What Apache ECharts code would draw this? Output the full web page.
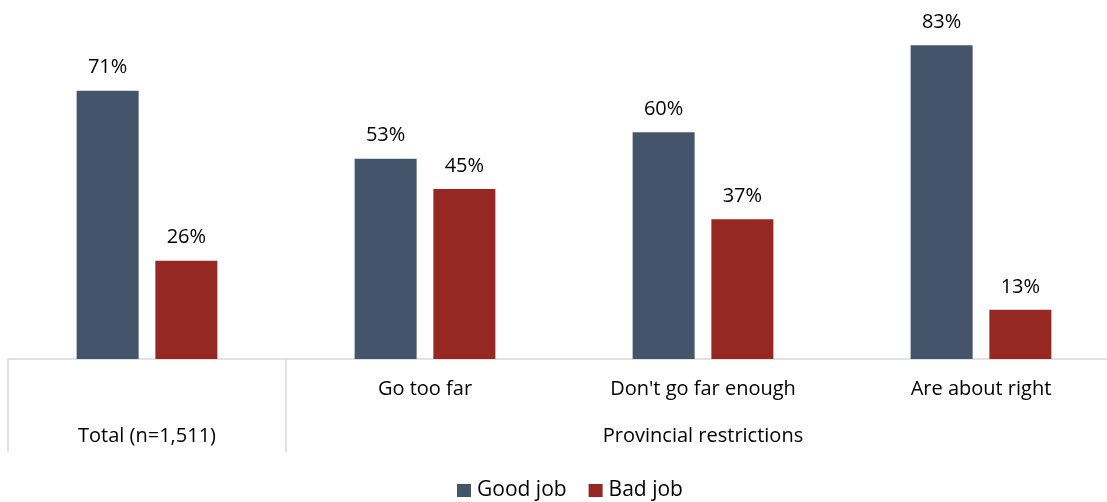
<!DOCTYPE html>
<html><head><meta charset="utf-8">
<script src="https://cdn.jsdelivr.net/npm/echarts@6/dist/echarts.min.js"></script>
<style>html,body{margin:0;padding:0;background:#fff}#c{width:1107px;height:502px}</style>
</head><body><div id="c"></div>
<script>
var categories = ['', 'Go too far', "Don't go far enough", 'Are about right'];
var groupLabels = ['Total (n=1,511)', '', 'Provincial restrictions', ''];
var goodJob = [71, 53, 60, 83];
var badJob = [26, 45, 37, 13];
var seriesNames = ['Good job', 'Bad job'];

var chart = echarts.init(document.getElementById('c'));
var font = '"Open Sans", sans-serif';
var lbl = {show: true, position: 'top', distance: 13, formatter: '{c}%', color: '#000', fontSize: 20, fontFamily: font};
chart.setOption({
  animation: false,
  textStyle: {fontFamily: font},
  grid: {left: 8, width: 1112, top: 0, bottom: 143, containLabel: false, outerBoundsMode: 'none'},
  legend: {bottom: 1, left: 457, itemWidth: 14, itemHeight: 13, itemGap: 22, icon: 'rect', padding: 0,
    textStyle: {fontSize: 21, color: '#000', fontFamily: font, padding: [0, 0, 0, 1]}, data: seriesNames},
  xAxis: [{
    type: 'category', data: categories, position: 'bottom',
    axisLine: {lineStyle: {color: '#d9d9d9', width: 1.5}},
    axisTick: {show: false},
    axisLabel: {fontSize: 20, color: '#000', margin: 20, fontFamily: font, interval: 0}
  }, {
    type: 'category', data: groupLabels, position: 'bottom',
    axisLine: {show: false},
    axisTick: {show: true, length: 93, interval: function (i) { return i === 0 || i === 1; },
      lineStyle: {color: '#d9d9d9', width: 1.5}},
    axisLabel: {fontSize: 20, color: '#000', margin: 67, fontFamily: font, interval: 0}
  }],
  yAxis: {type: 'value', min: 0, max: 95, show: false, splitLine: {show: false}},
  series: [{
    name: seriesNames[0], type: 'bar', data: goodJob, barWidth: 62, barGap: '27%',
    itemStyle: {color: '#44546A'}, label: lbl
  }, {
    name: seriesNames[1], type: 'bar', data: badJob, barWidth: 62, barGap: '27%',
    itemStyle: {color: '#952822'}, label: lbl
  }]
});
</script></body></html>
